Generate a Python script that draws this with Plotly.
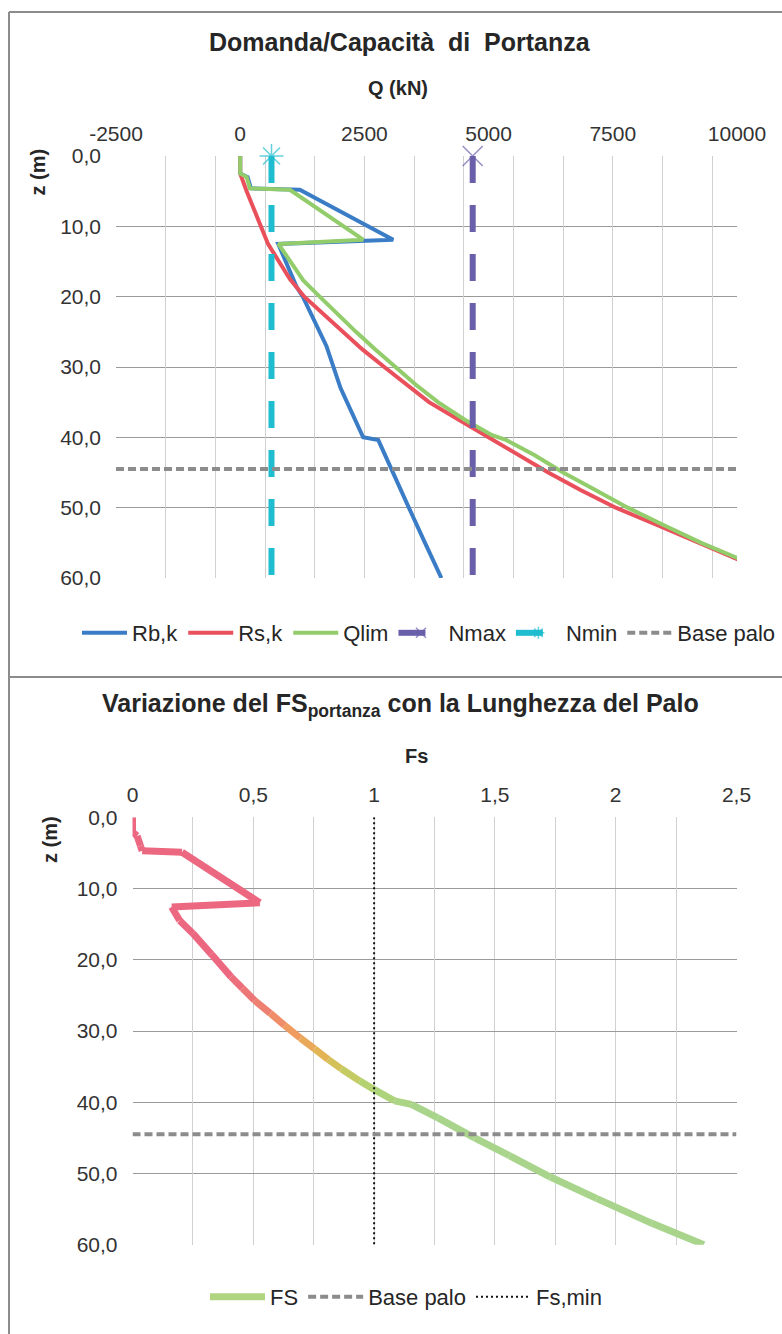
import plotly.graph_objects as go

# ------------------------------------------------------------------
# DATA - top chart: Domanda/Capacità di Portanza  (Q in kN vs z in m)
# ------------------------------------------------------------------
Z_RB = [0, 2.5, 3.0, 4.6, 4.8, 11.9, 12.5, 15.0, 18.6, 20.0, 27.0, 33.0, 40.0, 40.4, 46.0, 50.3, 55.0, 60.0]
RB_K = [0, 0, 150, 215, 1200, 3080, 765, 915, 1134, 1260, 1735, 2020, 2475, 2780, 3150, 3414, 3720, 4050]

Z_RS = [0, 2.5, 5.0, 7.5, 10.0, 12.5, 15.0, 17.5, 20.0, 22.5, 25.0, 27.5, 30.0, 32.5, 35.0, 37.5,
        40.0, 42.5, 45.0, 47.5, 50.0, 52.5, 55.0, 57.5, 60.0]
RS_K = [0, 0, 130, 270, 400, 560, 780, 1000, 1290, 1690, 2060, 2460, 2900, 3340, 3800, 4400,
        5000, 5600, 6200, 6850, 7560, 8400, 9220, 10070, 10900]

Z_QLIM = [0, 2.5, 3.0, 4.6, 4.8, 11.9, 12.5, 15.0, 17.7, 20.0, 22.5, 25.0, 27.5, 30.0, 32.5, 35.0,
          37.5, 39.7, 40.4, 42.5, 45.0, 47.5, 50.0, 52.5, 55.0, 57.5, 60.0]
QLIM = [0, 0, 130, 195, 1000, 2475, 770, 1010, 1270, 1600, 1960, 2330, 2720, 3120, 3530, 3980,
        4520, 5070, 5360, 5920, 6500, 7150, 7800, 8530, 9280, 10120, 11000]

N_MAX = 4680
N_MIN = 630
Z_N = [0, 60]
Z_BASE_PALO = 44.5

Q_RANGE = [-2500, 10000]
Q_TICKS = [-2500, 0, 2500, 5000, 7500, 10000]
Q_TICK_LABELS = ["-2500", "0", "2500", "5000", "7500", "10000"]
Q_GRID = [-2500, -1500, -500, 500, 1500, 2500, 3500, 4500, 5500, 6500, 7500, 8500, 9500]

Z_RANGE = [60, 0]
Z_TICKS = [0, 10, 20, 30, 40, 50, 60]
Z_TICK_LABELS = ["0,0", "10,0", "20,0", "30,0", "40,0", "50,0", "60,0"]

# ------------------------------------------------------------------
# DATA - bottom chart: Variazione del FS portanza con la lunghezza del palo
# ------------------------------------------------------------------
Z_FS = [0, 2.1, 2.6, 4.0, 4.7, 4.9, 12.0, 12.6, 14.5, 16.3, 19.2, 22.4, 24.0, 25.7, 27.5, 29.2,
        31.0, 32.5, 34.0, 35.3, 37.0, 38.2, 39.8, 40.3, 42.2, 45.0, 47.5, 50.5, 53.5, 57.0, 60.0]
FS = [0, 0, 0.019, 0.033, 0.04, 0.205, 0.527, 0.162, 0.195, 0.25, 0.326, 0.408, 0.455, 0.505, 0.57, 0.629,
      0.695, 0.753, 0.81, 0.864, 0.94, 0.999, 1.084, 1.154, 1.264, 1.416, 1.56, 1.73, 1.92, 2.15, 2.365]
FS_MIN = 1.0
Z_FSMIN = [0, 60]

FS_RANGE = [0, 2.5]
FS_TICKS = [0, 0.5, 1.0, 1.5, 2.0, 2.5]
FS_TICK_LABELS = ["0", "0,5", "1", "1,5", "2", "2,5"]
FS_GRID_MID = [0.25, 0.75, 1.25, 1.75, 2.25]

# ------------------------------------------------------------------
# STYLE
# ------------------------------------------------------------------
W, H = 782, 1334
FONT = "Liberation Sans, Arial, sans-serif"
TXT = "#262626"
C_RB = "#3A7DC6"
C_RS = "#E9505C"
C_Q = "#93CD6B"
C_NMAX = "#6A60AA"
C_NMIN = "#20BCCF"
C_BASE = "#8C8C8C"
C_HGRID = "#9A9A9A"
C_VGRID = "#D0D0D0"
FS_STOPS = [(0, (236, 104, 128)), (22, (236, 104, 128)), (26, (238, 124, 116)), (30, (240, 154, 96)),
            (33, (230, 178, 84)), (35.5, (203, 200, 92)), (38, (176, 212, 115)), (41, (168, 212, 140)),
            (60, (168, 212, 140))]


def fs_color(z):
    for (z0, c0), (z1, c1) in zip(FS_STOPS[:-1], FS_STOPS[1:]):
        if z0 <= z <= z1:
            t = 0 if z1 == z0 else (z - z0) / (z1 - z0)
            r, g, b = (round(a + (b_ - a) * t) for a, b_ in zip(c0, c1))
            return f"rgb({r},{g},{b})"
    return "rgb(168,212,140)"


def px(x):
    return x / W


def py(y):
    return 1 - y / H


fig = go.Figure()

# ---------------- top chart traces ----------------
fig.add_trace(go.Scatter(x=RB_K, y=Z_RB, mode="lines", name="Rb,k",
                         line=dict(color=C_RB, width=4), legend="legend"))
fig.add_trace(go.Scatter(x=RS_K, y=Z_RS, mode="lines", name="Rs,k",
                         line=dict(color=C_RS, width=4), legend="legend"))
fig.add_trace(go.Scatter(x=QLIM, y=Z_QLIM, mode="lines", name="Qlim",
                         line=dict(color=C_Q, width=4), legend="legend"))
fig.add_trace(go.Scatter(x=[N_MAX] * len(Z_N), y=Z_N, mode="lines+markers", name="Nmax",
                         line=dict(color=C_NMAX, width=6, dash="27px,22px"),
                         marker=dict(symbol="x-thin-open", size=[20, 0], color=C_NMAX,
                                     line=dict(width=1.5, color=C_NMAX)),
                         cliponaxis=False, legend="legend"))
fig.add_trace(go.Scatter(x=[N_MIN] * len(Z_N), y=Z_N, mode="lines+markers", name="Nmin",
                         line=dict(color=C_NMIN, width=6, dash="27px,22px"),
                         marker=dict(symbol="asterisk-open", size=[20, 0], color=C_NMIN,
                                     line=dict(width=1.5, color=C_NMIN)),
                         cliponaxis=False, legend="legend"))
fig.add_trace(go.Scatter(x=Q_RANGE, y=[Z_BASE_PALO] * len(Q_RANGE), mode="lines", name="Base palo",
                         line=dict(color=C_BASE, width=4, dash="8px,4px"),
                         xaxis="x3", yaxis="y", legend="legend"))

# ---------------- bottom chart traces ----------------
fig.add_trace(go.Scatter(x=[None], y=[None], mode="lines", name="FS",
                         line=dict(color="rgb(176,212,128)", width=7),
                         xaxis="x2", yaxis="y2", legend="legend2", legendgroup="fs"))
for i in range(len(FS) - 1):
    zm = 0.5 * (Z_FS[i] + Z_FS[i + 1])
    fig.add_trace(go.Scatter(x=FS[i:i + 2], y=Z_FS[i:i + 2], mode="lines", name="FS",
                             line=dict(color=fs_color(zm), width=7),
                             xaxis="x2", yaxis="y2", showlegend=False, legendgroup="fs",
                             legend="legend2"))
fig.add_trace(go.Scatter(x=FS_RANGE, y=[Z_BASE_PALO] * len(FS_RANGE), mode="lines", name="Base palo",
                         line=dict(color=C_BASE, width=4, dash="8px,4px"),
                         xaxis="x4", yaxis="y2", legend="legend2"))
fig.add_trace(go.Scatter(x=[FS_MIN] * len(Z_FSMIN), y=Z_FSMIN, mode="lines", name="Fs,min",
                         line=dict(color="#111111", width=2, dash="2px,3px"),
                         xaxis="x2", yaxis="y2", legend="legend2"))

tickfont = dict(family=FONT, size=21, color="#333333")
common_y = dict(range=Z_RANGE, tickmode="array", tickvals=Z_TICKS, ticktext=Z_TICK_LABELS,
                automargin=False, showgrid=True, gridcolor=C_HGRID, gridwidth=1, zeroline=False,
                showline=False, ticks="", ticklabelstandoff=14, tickfont=tickfont)

fig.update_layout(
    width=W, height=H, autosize=False,
    margin=dict(l=0, r=0, t=0, b=0, pad=0, autoexpand=False),
    paper_bgcolor="white", plot_bgcolor="white",
    separators=",.",
    xaxis=dict(domain=[px(116), px(737)], range=Q_RANGE, side="top",
               tickmode="array", tickvals=Q_TICKS, ticktext=Q_TICK_LABELS,
               showgrid=False, zeroline=False, showline=False, ticks="", automargin=False,
               ticklabelstandoff=10, tickfont=tickfont, anchor="y"),
    xaxis3=dict(overlaying="x", matches="x", range=Q_RANGE, side="top",
                tickmode="array", tickvals=Q_GRID, showticklabels=False, automargin=False,
                showgrid=True, gridcolor=C_VGRID, gridwidth=1, zeroline=False,
                showline=False, ticks="", anchor="y"),
    yaxis=dict(domain=[py(578), py(156)], anchor="x", **common_y),
    xaxis2=dict(domain=[px(132.5), px(736.5)], range=FS_RANGE, side="top",
                tickmode="array", tickvals=FS_TICKS, ticktext=FS_TICK_LABELS, automargin=False,
                showgrid=True, gridcolor=C_VGRID, gridwidth=1, zeroline=False,
                showline=False, ticks="", ticklabelstandoff=10, tickfont=tickfont, anchor="y2"),
    xaxis4=dict(overlaying="x2", matches="x2", range=FS_RANGE, side="top",
                tickmode="array", tickvals=FS_GRID_MID, showticklabels=False, automargin=False,
                showgrid=True, gridcolor=C_VGRID, gridwidth=1, zeroline=False,
                showline=False, ticks="", anchor="y2"),
    yaxis2=dict(domain=[py(1244.7), py(817.3)], anchor="x2", **common_y),
    legend=dict(orientation="h", x=px(77), y=py(633), xanchor="left", yanchor="middle",
                itemwidth=45,
                font=dict(family=FONT, size=22, color=TXT), bgcolor="rgba(0,0,0,0)"),
    legend2=dict(orientation="h", x=px(205), y=py(1297), xanchor="left", yanchor="middle",
                 itemwidth=55,
                 font=dict(family=FONT, size=22, color=TXT), bgcolor="rgba(0,0,0,0)"),
)

ann = [
    dict(text="<b>Domanda/Capacità\u00a0 di\u00a0 Portanza</b>", x=px(400), y=py(42), size=25),
    dict(text="<b>Q (kN)</b>", x=px(398), y=py(88), size=20),
    dict(text="<b>Variazione del FS<sub>portanza</sub> con la Lunghezza del Palo</b>", x=px(400), y=py(705), size=25),
    dict(text="<b>Fs</b>", x=px(416), y=py(756), size=20),
]
for a in ann:
    fig.add_annotation(text=a["text"], x=a["x"], y=a["y"], xref="paper", yref="paper",
                       xanchor="center", yanchor="middle", showarrow=False,
                       font=dict(family=FONT, size=a["size"], color=TXT))
for (xx, yy) in [(37.5, 172), (50, 840)]:
    fig.add_annotation(text="<b>z (m)</b>", x=px(xx), y=py(yy), xref="paper", yref="paper",
                       xanchor="center", yanchor="middle", showarrow=False, textangle=-90,
                       font=dict(family=FONT, size=20, color=TXT))

# chart area borders
for (x0, y0, x1, y1) in [(9, 12, W, 12), (9, 12, 9, H), (9, 677, W, 677)]:
    fig.add_shape(type="line", xref="paper", yref="paper", x0=px(x0), y0=py(y0), x1=px(x1), y1=py(y1),
                  line=dict(color="#8C8C8C", width=2))

fig.write_html("out.html")
